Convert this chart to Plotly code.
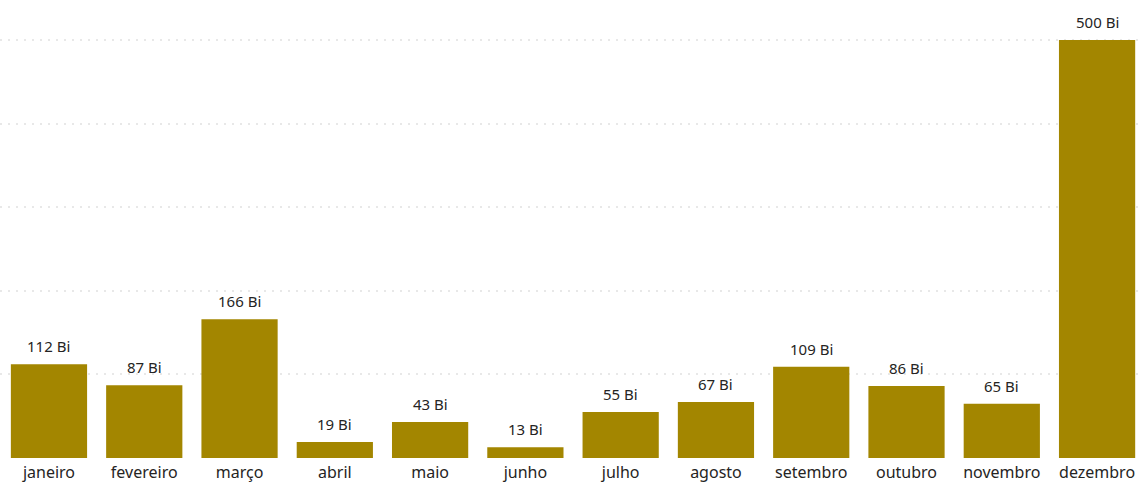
import plotly.graph_objects as go

meses = ["janeiro", "fevereiro", "março", "abril", "maio", "junho", "julho",
         "agosto", "setembro", "outubro", "novembro", "dezembro"]
valores = [112, 87, 166, 19, 43, 13, 55, 67, 109, 86, 65, 500]
rotulos = [f"{v} Bi" for v in valores]

FONT = "Segoe UI, Noto Sans, sans-serif"

fig = go.Figure(go.Bar(
    x=meses, y=valores,
    marker=dict(color="#A38600", line=dict(width=0)),
    hoverinfo="x+y",
))

for m, v, t in zip(meses, valores, rotulos):
    fig.add_annotation(x=m, y=v, text=t, showarrow=False, yanchor="bottom",
                       yshift=6, font=dict(family=FONT, size=15, color="#252423"))

fig.update_layout(
    width=1139, height=484,
    margin=dict(l=0, r=0, t=0, b=26, autoexpand=False),
    plot_bgcolor="white", paper_bgcolor="white",
    bargap=0.2,
    showlegend=False,
    font=dict(family=FONT, size=15, color="#252423"),
)
fig.update_xaxes(range=[-0.514, 11.44], showgrid=False, showline=False,
                 ticks="", tickfont=dict(size=16, color="#252423"),
                 ticklabelstandoff=3, automargin=False)
fig.update_yaxes(range=[0, 547.8], dtick=100, showgrid=True, gridcolor="#e8e8e8",
                 griddash="2px,6px", gridwidth=1.5, showticklabels=False,
                 zeroline=False, showline=False, automargin=False)

fig.write_html("out.html", config={"displayModeBar": False},
               post_script="document.body.style.margin='0';")
